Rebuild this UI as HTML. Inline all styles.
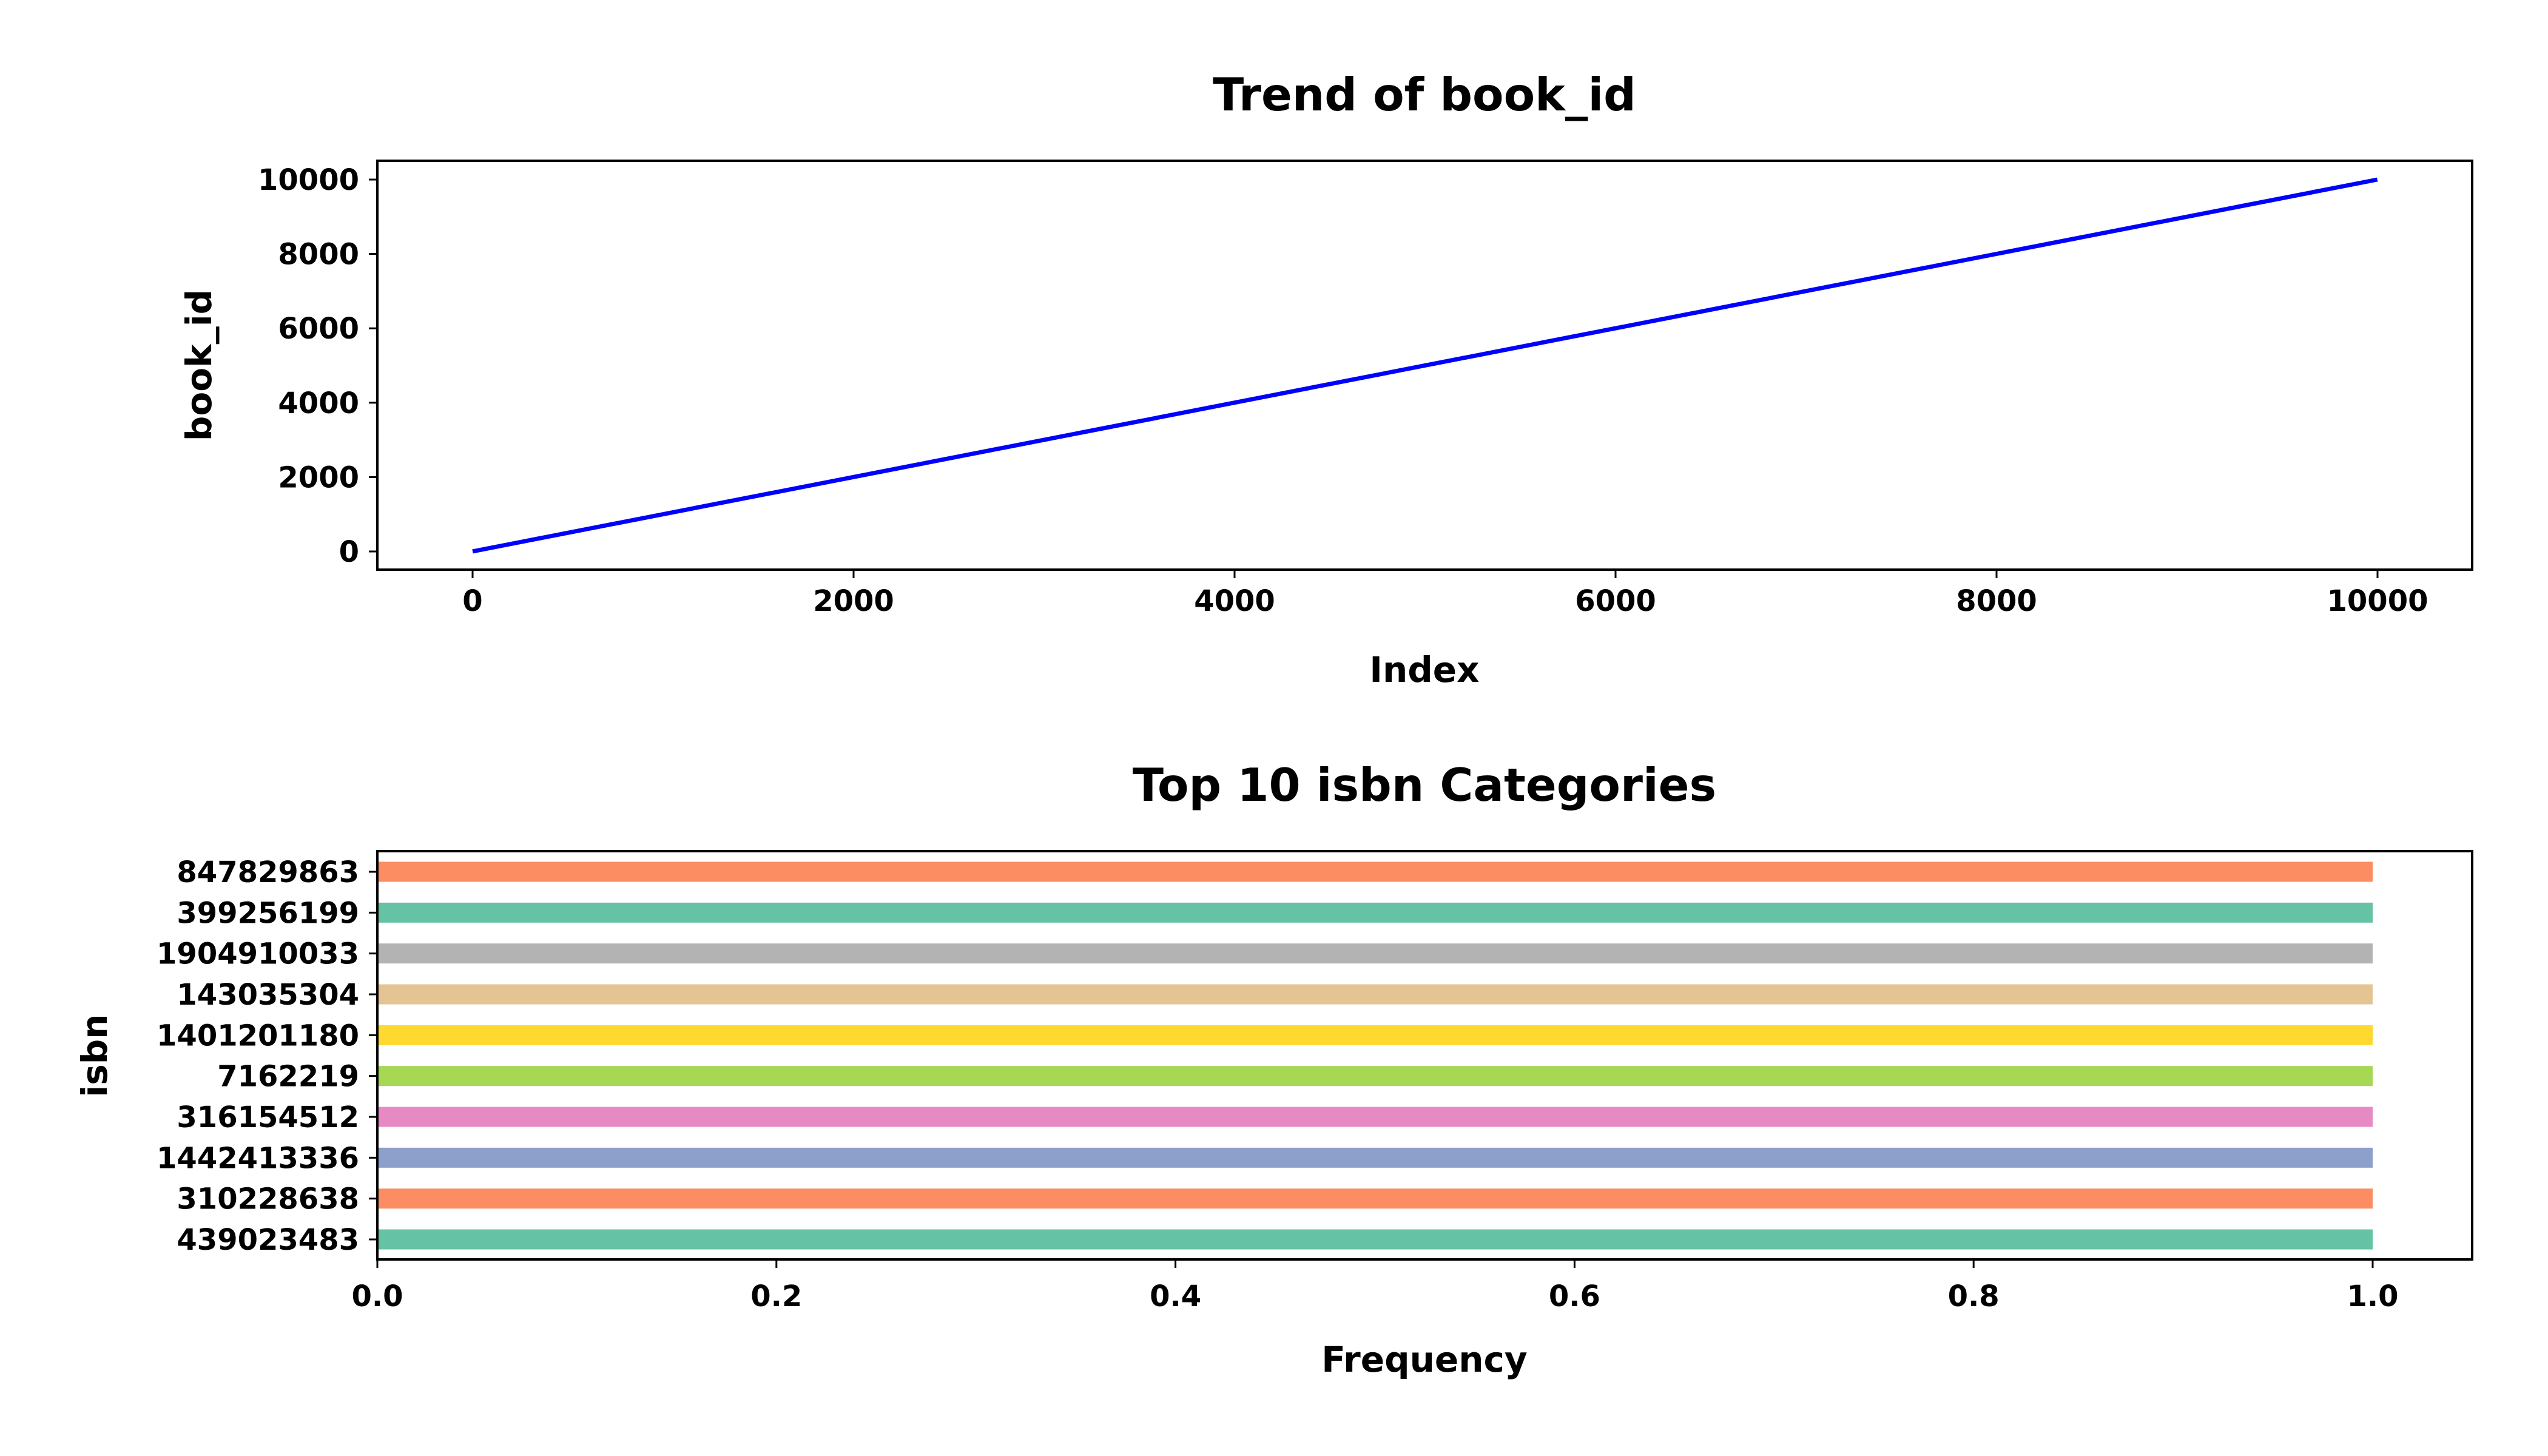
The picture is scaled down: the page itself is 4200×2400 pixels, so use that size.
<!DOCTYPE html>
<html><head><meta charset="utf-8"><style>
html,body{margin:0;padding:0;background:#fff}
svg{display:block}
text{font-family:"DejaVu Sans","Liberation Sans",sans-serif;font-weight:bold;fill:#000}
</style></head><body>
<svg id="fig" width="4200" height="2400" viewBox="0 0 4200 2400" xmlns="http://www.w3.org/2000/svg">
<rect width="4200" height="2400" fill="#fff"/>
<g id="topChart"></g>
<g id="botChart"></g>
</svg>
<script>
const lineIndex = [0, 2000, 4000, 6000, 8000, 9999];
const lineValues = [1, 2001, 4001, 6001, 8001, 10000];
const topXTicks = [0, 2000, 4000, 6000, 8000, 10000];
const topYTicks = [0, 2000, 4000, 6000, 8000, 10000];
const isbnCategories = ["847829863","399256199","1904910033","143035304","1401201180","7162219","316154512","1442413336","310228638","439023483"];
const isbnCounts = [1,1,1,1,1,1,1,1,1,1];
const barColors = ["#fc8d62","#66c2a5","#b3b3b3","#e5c494","#ffd92f","#a6d854","#e78ac3","#8da0cb","#fc8d62","#66c2a5"];
const botXTicks = [0.0, 0.2, 0.4, 0.6, 0.8, 1.0];

const NS = "http://www.w3.org/2000/svg";
function mk(parent, tag, attrs, txt){
  const e = document.createElementNS(NS, tag);
  for (const k in attrs) e.setAttribute(k, attrs[k]);
  if (txt !== undefined) e.textContent = txt;
  parent.appendChild(e);
  return e;
}
const AL = 622, AR = 4075;
const T1 = 265, B1 = 939;
const T2 = 1403, B2 = 2076;
const xTop = v => 779 + v * (3919 - 779) / 10000;
const yTop = v => 909 - v * (909 - 296) / 10000;
const xBot = v => AL + v * (3911 - AL);
const nCat = isbnCategories.length;
const yBot = i => 1437 + i * (2043 - 1437) / (nCat - 1);

// ---- top chart
const topG = document.getElementById('topChart');
let t = mk(topG, 'text', {x: 2348, y: 182, 'text-anchor': 'middle', 'font-size': 75}, 'Trend of book_id');


const pts = lineIndex.map((v, i) => xTop(v).toFixed(1) + ',' + yTop(lineValues[i]).toFixed(1)).join(' ');
let pl = mk(topG, 'polyline', {points: pts, fill: 'none', stroke: '#0000ff', 'stroke-width': 7, 'stroke-linejoin': 'round'});


let fr = mk(topG, 'rect', {x: AL, y: T1, width: AR - AL, height: B1 - T1, fill: 'none', stroke: '#000', 'stroke-width': 4});


topXTicks.forEach(v => {
  const x = xTop(v);
  mk(topG, 'line', {x1: x, x2: x, y1: B1, y2: B1 + 14, stroke: '#000', 'stroke-width': 3});
  const tt = mk(topG, 'text', {x: x, y: 1007, 'text-anchor': 'middle', 'font-size': 48}, String(v));
  
  
});
topYTicks.forEach(v => {
  const y = yTop(v);
  mk(topG, 'line', {x1: AL - 14, x2: AL, y1: y, y2: y, stroke: '#000', 'stroke-width': 3});
  const tt = mk(topG, 'text', {x: 592, y: y + 17, 'text-anchor': 'end', 'font-size': 48}, String(v));
  
  
});
t = mk(topG, 'text', {x: 2348, y: 1124, 'text-anchor': 'middle', 'font-size': 58}, 'Index');


t = mk(topG, 'text', {x: 348, y: 602, 'text-anchor': 'middle', 'font-size': 58, transform: 'rotate(-90 348 602)'}, 'book_id');



// ---- bottom chart
const botG = document.getElementById('botChart');
t = mk(botG, 'text', {x: 2348, y: 1320, 'text-anchor': 'middle', 'font-size': 75}, 'Top 10 isbn Categories');


isbnCategories.forEach((c, i) => {
  const y = yBot(i);
  const b = mk(botG, 'rect', {x: xBot(0), y: y - 16.5, width: xBot(isbnCounts[i]) - xBot(0), height: 33, fill: barColors[i]});
  
  
  mk(botG, 'line', {x1: AL - 14, x2: AL, y1: y, y2: y, stroke: '#000', 'stroke-width': 3});
  const tt = mk(botG, 'text', {x: 592, y: y + 17, 'text-anchor': 'end', 'font-size': 48}, c);
  
  
});
fr = mk(botG, 'rect', {x: AL, y: T2, width: AR - AL, height: B2 - T2, fill: 'none', stroke: '#000', 'stroke-width': 4});


botXTicks.forEach(v => {
  const x = xBot(v);
  mk(botG, 'line', {x1: x, x2: x, y1: B2, y2: B2 + 14, stroke: '#000', 'stroke-width': 3});
  const tt = mk(botG, 'text', {x: x, y: 2153, 'text-anchor': 'middle', 'font-size': 48}, v.toFixed(1));
  
  
});
t = mk(botG, 'text', {x: 2348, y: 2261, 'text-anchor': 'middle', 'font-size': 58}, 'Frequency');


t = mk(botG, 'text', {x: 176, y: 1740, 'text-anchor': 'middle', 'font-size': 58, transform: 'rotate(-90 176 1740)'}, 'isbn');


</script>
</body></html>
